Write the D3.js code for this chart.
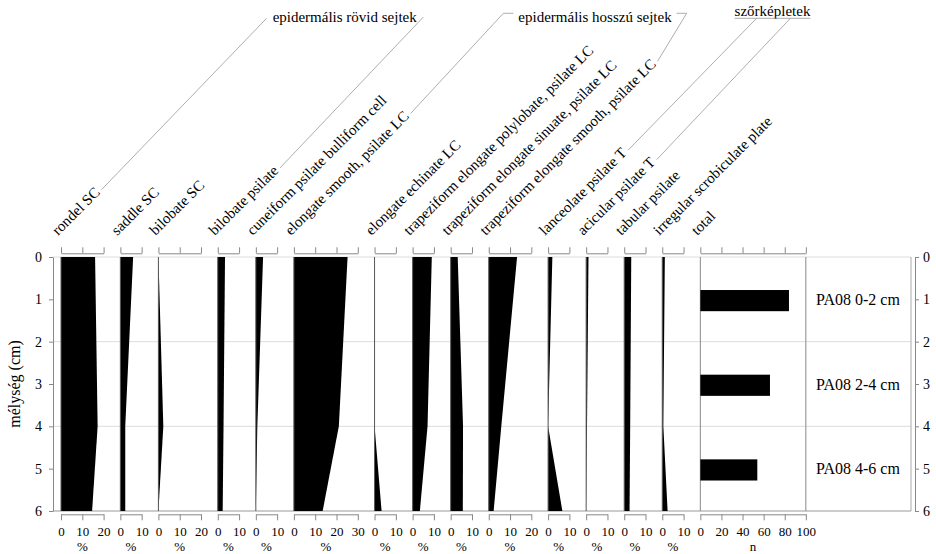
<!DOCTYPE html>
<html lang='hu'>
<head>
<meta charset='utf-8'>
<script src='https://d3js.org/d3.v7.min.js'></script>
<style>
	body { margin:0; background:#fff; }
	svg text { font-family:'Liberation Serif','Times New Roman',serif; fill:#000; }
	.axis path, .axis line { stroke:#888; }
	.axis text { font-size:13px; }
	.depth-axis text { font-size:14px; }
</style>
</head>
<body>
<div id='chart'></div>
<script>
// sample depths (cm) of the phytolith counts
var depths = [0, 4, 6];
var taxa = ['rondel SC', 'saddle SC', 'bilobate SC', 'bilobate psilate',
	'cuneiform psilate bulliform cell', 'elongate smooth, psilate LC',
	'elongate echinate LC', 'trapeziform elongate polylobate, psilate LC',
	'trapeziform elongate sinuate, psilate LC', 'trapeziform elongate smooth, psilate LC',
	'lanceolate psilate T', 'acicular psilate T', 'tabular psilate',
	'irregular scrobiculate plate'];
var scaleMax = [20, 10, 20, 10, 10, 30, 10, 10, 10, 20, 10, 10, 10, 10];
// percentages at depths 0, 4, 6
var percents = [
	[16.0, 17.2, 14.6],
	[6.0, 2.3, 2.3],
	[0, 2.3, 0],
	[3.4, 2.7, 2.3],
	[3.4, 0.7, 0],
	[25.2, 21.1, 13.5],
	[0, 0, 3.3],
	[9.0, 7.0, 3.4],
	[3.3, 5.8, 5.7],
	[13.3, 5.9, 2.3],
	[2.0, 0, 6.7],
	[1.1, 0.4, 0],
	[3.3, 2.8, 2.5],
	[1.2, 0.5, 2.5]
];
var samples = ['PA08 0-2 cm', 'PA08 2-4 cm', 'PA08 4-6 cm'];
var sampleDepths = [1, 3, 5];
var totals = [84, 66, 54];
var totalTicks = [0, 20, 40, 60, 80, 100];
var depthTicks = [0, 1, 2, 3, 4, 5, 6];
var gridDepths = [0, 2, 4, 6];
var groupNames = ['epidermális rövid sejtek', 'epidermális hosszú sejtek', 'szőrképletek'];
var groupFirst = [0, 5, 10];
var groupLast = [3, 9, 11];

var width = 936, height = 554;
var svg = d3.select('#chart').append('svg')
	.attr('width', width).attr('height', height);

//layout
var top0 = 257, bottom0 = 511;
var leftAxisX = 53, frameRight = 911, rightAxisX = 915;
var pxPerPct = 2.13, gap = 16.76, startX = 61, totalWidth = 105.5;

var y = d3.scaleLinear().domain([0, 6]).range([top0, bottom0]);

// panel x scales
var scales = [];
var cx = startX;
scaleMax.forEach(function(m){
	scales.push(d3.scaleLinear().domain([0, m]).range([cx, cx + m * pxPerPct]));
	cx += m * pxPerPct + gap;
});
var xTotal = d3.scaleLinear().domain([0, 100]).range([cx, cx + totalWidth]);

// grid
svg.selectAll('.grid').data(gridDepths).enter().append('line')
	.attr('x1', leftAxisX).attr('x2', frameRight)
	.attr('y1', function(d){ return y(d); }).attr('y2', function(d){ return y(d); })
	.style('stroke', function(d){ return d == 6 ? '#999' : '#ddd'; });
svg.append('line').attr('x1', frameRight).attr('x2', frameRight)
	.attr('y1', y(0)).attr('y2', y(6)).style('stroke', '#aaa');

// depth axes
svg.append('g').attr('class', 'axis depth-axis')
	.attr('transform', 'translate(' + leftAxisX + ',0)')
	.call(d3.axisLeft(y).tickValues(depthTicks).tickFormat(d3.format('d'))
		.tickSize(4).tickSizeOuter(0).tickPadding(7));
svg.append('g').attr('class', 'axis depth-axis')
	.attr('transform', 'translate(' + rightAxisX + ',0)')
	.call(d3.axisRight(y).tickValues(depthTicks).tickFormat(d3.format('d'))
		.tickSize(4).tickSizeOuter(0).tickPadding(4));
svg.append('text')
	.attr('transform', 'translate(20,' + y(3) + ') rotate(-90)')
	.attr('text-anchor', 'middle').style('font-size', '16px')
	.text('mélység (cm)');

var area = d3.area().curve(d3.curveLinear);

// percentage panels
taxa.forEach(function(name, i){
	var x = scales[i];
	var ticks = d3.range(0, scaleMax[i] + 1, 10);
	var pts = depths.map(function(d, j){ return [d, percents[i][j]]; });
	svg.append('path')
		.attr('d', area.x0(x(0)).x1(function(p){ return x(p[1]); }).y(function(p){ return y(p[0]); })(pts))
		.style('fill', '#000');
	svg.append('line')
		.attr('x1', x(0)).attr('x2', x(0)).attr('y1', y(0)).attr('y2', y(6))
		.style('stroke', '#555');
	svg.append('g').attr('class', 'axis')
		.attr('transform', 'translate(0,253.3)')
		.call(d3.axisTop(x).tickValues(ticks).tickSize(6).tickSizeOuter(0).tickFormat(''));
	svg.append('g').attr('class', 'axis')
		.attr('transform', 'translate(0,514.3)')
		.call(d3.axisBottom(x).tickValues(ticks).tickSize(6).tickSizeOuter(0).tickPadding(6));
	svg.append('text')
		.attr('x', (x.range()[0] + x.range()[1]) / 2).attr('y', 550.5)
		.attr('text-anchor', 'middle').style('font-size', '13px').text('%');
});

// total panel
[0, 100].forEach(function(v){
	svg.append('line').attr('x1', xTotal(v)).attr('x2', xTotal(v))
		.attr('y1', y(0)).attr('y2', y(6)).style('stroke', '#888');
});
svg.selectAll('.total-bar').data(totals).enter().append('rect')
	.attr('x', xTotal(0))
	.attr('y', function(d, i){ return y(sampleDepths[i] - 0.22); })
	.attr('width', function(d){ return xTotal(d) - xTotal(0); })
	.attr('height', function(d, i){ return y(sampleDepths[i] + 0.28) - y(sampleDepths[i] - 0.22); })
	.style('fill', '#000');
svg.append('g').attr('class', 'axis')
	.attr('transform', 'translate(0,253.3)')
	.call(d3.axisTop(xTotal).tickValues(totalTicks).tickSize(6).tickSizeOuter(0).tickFormat(''));
svg.append('g').attr('class', 'axis')
	.attr('transform', 'translate(0,514.3)')
	.call(d3.axisBottom(xTotal).tickValues(totalTicks).tickSize(6).tickSizeOuter(0).tickPadding(6));
svg.append('text')
	.attr('x', (xTotal.range()[0] + xTotal.range()[1]) / 2).attr('y', 550.5)
	.attr('text-anchor', 'middle').style('font-size', '13px').text('n');

svg.selectAll('.sample').data(samples).enter().append('text')
	.attr('x', 816).attr('y', function(d, i){ return y(sampleDepths[i]); })
	.attr('dy', '0.35em').style('font-size', '16px')
	.text(function(d){ return d; });

// rotated headers
var headerNames = taxa.concat(['total']);
var headerX = scales.map(function(s){ return s(0); }).concat([xTotal(0)]);
var labelEnds = [];
var c45 = Math.SQRT1_2;
headerNames.forEach(function(name, i){
	var x0 = headerX[i] - 3, y0 = 236;
	var t = svg.append('text')
		.attr('transform', 'translate(' + x0 + ',' + y0 + ') rotate(-45)')
		.style('font-size', '15px').text(name);
	var L = t.node().getComputedTextLength();
	var u = L + 3, v = -2;
	labelEnds.push([x0 + (u + v) * c45, y0 + (v - u) * c45]);
});

// group titles and connectors
function connector(from, to){
	svg.append('line').attr('x1', from[0]).attr('y1', from[1])
		.attr('x2', to[0]).attr('y2', to[1])
		.style('stroke', '#999').style('stroke-width', 0.8);
}
var groupCenter = [344.7, 595, 772.5];
var groupBase = [22, 22, 15.5];
groupNames.forEach(function(name, g){
	var t = svg.append('text')
		.attr('x', groupCenter[g]).attr('y', groupBase[g])
		.attr('text-anchor', 'middle').style('font-size', '15px').text(name);
	var w = t.node().getComputedTextLength();
	var l = groupCenter[g] - w / 2, r = groupCenter[g] + w / 2;
	var a = labelEnds[groupFirst[g]], b = labelEnds[groupLast[g]];
	if (g == 0) {
		connector(a, [l - 6, 18.3]);
		connector(b, [r + 6.6, 17]);
	} else if (g == 1) {
		connector(a, [l - 15, 13.3]);
		connector([l - 15, 13.3], [l - 5, 13.3]);
		connector(b, [r + 15, 13.3]);
		connector([r + 5, 13.3], [r + 15, 13.3]);
	} else {
		connector([l, 18.3], [r, 18.3]);
		connector(a, [l + 22, 18.3]);
		connector(b, [r - 20, 18.3]);
	}
});
</script>
</body>
</html>
